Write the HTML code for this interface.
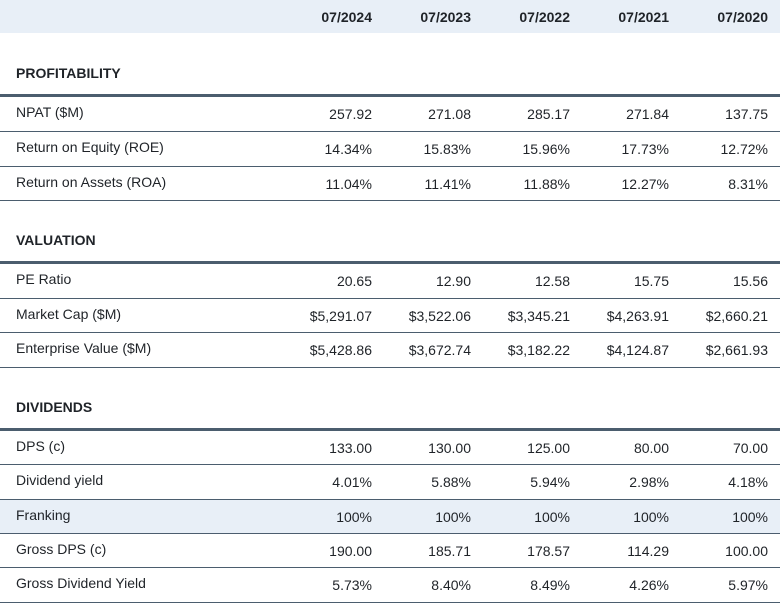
<!DOCTYPE html>
<html><head><style>
*{margin:0;padding:0;box-sizing:border-box}
body{width:780px;height:603px;background:#fff;font-family:"Liberation Sans",sans-serif;color:#1f2328;position:relative;overflow:hidden}
.hdr{position:absolute;left:0;top:0;width:780px;height:33px;background:#e8eff7}
.r{position:absolute;left:0;width:780px;font-size:14px;border-bottom:1px solid #4b5d6e}
.r span{position:absolute;top:50%;transform:translateY(-50%);white-space:nowrap}
.r span.l{left:16px;margin-top:-2px}
.c1{right:408px;text-align:right}.c2{right:309px}.c3{right:210px}.c4{right:111px}.c5{right:12px}
.h span{font-weight:bold;font-size:14px}
.t{position:absolute;left:16px;font-weight:bold;font-size:14px}
.k{position:absolute;left:0;width:780px;height:3px;background:#4b5d6e}
.f{background:#e8eff7}
</style></head><body>
<div class="hdr"></div>
<div class="r h" style="top:0;height:33px;border:none"><span class="c1">07/2024</span><span class="c2">07/2023</span><span class="c3">07/2022</span><span class="c4">07/2021</span><span class="c5">07/2020</span></div>

<div class="t" style="top:65px">PROFITABILITY</div>
<div class="k" style="top:94px"></div>
<div class="r" style="top:97px;height:35px"><span class="l">NPAT ($M)</span><span class="c1">257.92</span><span class="c2">271.08</span><span class="c3">285.17</span><span class="c4">271.84</span><span class="c5">137.75</span></div>
<div class="r" style="top:132px;height:35px"><span class="l">Return on Equity (ROE)</span><span class="c1">14.34%</span><span class="c2">15.83%</span><span class="c3">15.96%</span><span class="c4">17.73%</span><span class="c5">12.72%</span></div>
<div class="r" style="top:167px;height:34px"><span class="l">Return on Assets (ROA)</span><span class="c1">11.04%</span><span class="c2">11.41%</span><span class="c3">11.88%</span><span class="c4">12.27%</span><span class="c5">8.31%</span></div>

<div class="t" style="top:232px">VALUATION</div>
<div class="k" style="top:261px"></div>
<div class="r" style="top:264px;height:35px"><span class="l">PE Ratio</span><span class="c1">20.65</span><span class="c2">12.90</span><span class="c3">12.58</span><span class="c4">15.75</span><span class="c5">15.56</span></div>
<div class="r" style="top:299px;height:34px"><span class="l">Market Cap ($M)</span><span class="c1">$5,291.07</span><span class="c2">$3,522.06</span><span class="c3">$3,345.21</span><span class="c4">$4,263.91</span><span class="c5">$2,660.21</span></div>
<div class="r" style="top:333px;height:35px"><span class="l">Enterprise Value ($M)</span><span class="c1">$5,428.86</span><span class="c2">$3,672.74</span><span class="c3">$3,182.22</span><span class="c4">$4,124.87</span><span class="c5">$2,661.93</span></div>

<div class="t" style="top:399px">DIVIDENDS</div>
<div class="k" style="top:428px"></div>
<div class="r" style="top:431px;height:34px"><span class="l">DPS (c)</span><span class="c1">133.00</span><span class="c2">130.00</span><span class="c3">125.00</span><span class="c4">80.00</span><span class="c5">70.00</span></div>
<div class="r" style="top:465px;height:35px"><span class="l">Dividend yield</span><span class="c1">4.01%</span><span class="c2">5.88%</span><span class="c3">5.94%</span><span class="c4">2.98%</span><span class="c5">4.18%</span></div>
<div class="r f" style="top:500px;height:34px"><span class="l">Franking</span><span class="c1">100%</span><span class="c2">100%</span><span class="c3">100%</span><span class="c4">100%</span><span class="c5">100%</span></div>
<div class="r" style="top:534px;height:34px"><span class="l">Gross DPS (c)</span><span class="c1">190.00</span><span class="c2">185.71</span><span class="c3">178.57</span><span class="c4">114.29</span><span class="c5">100.00</span></div>
<div class="r" style="top:568px;height:35px"><span class="l">Gross Dividend Yield</span><span class="c1">5.73%</span><span class="c2">8.40%</span><span class="c3">8.49%</span><span class="c4">4.26%</span><span class="c5">5.97%</span></div>
</body></html>
